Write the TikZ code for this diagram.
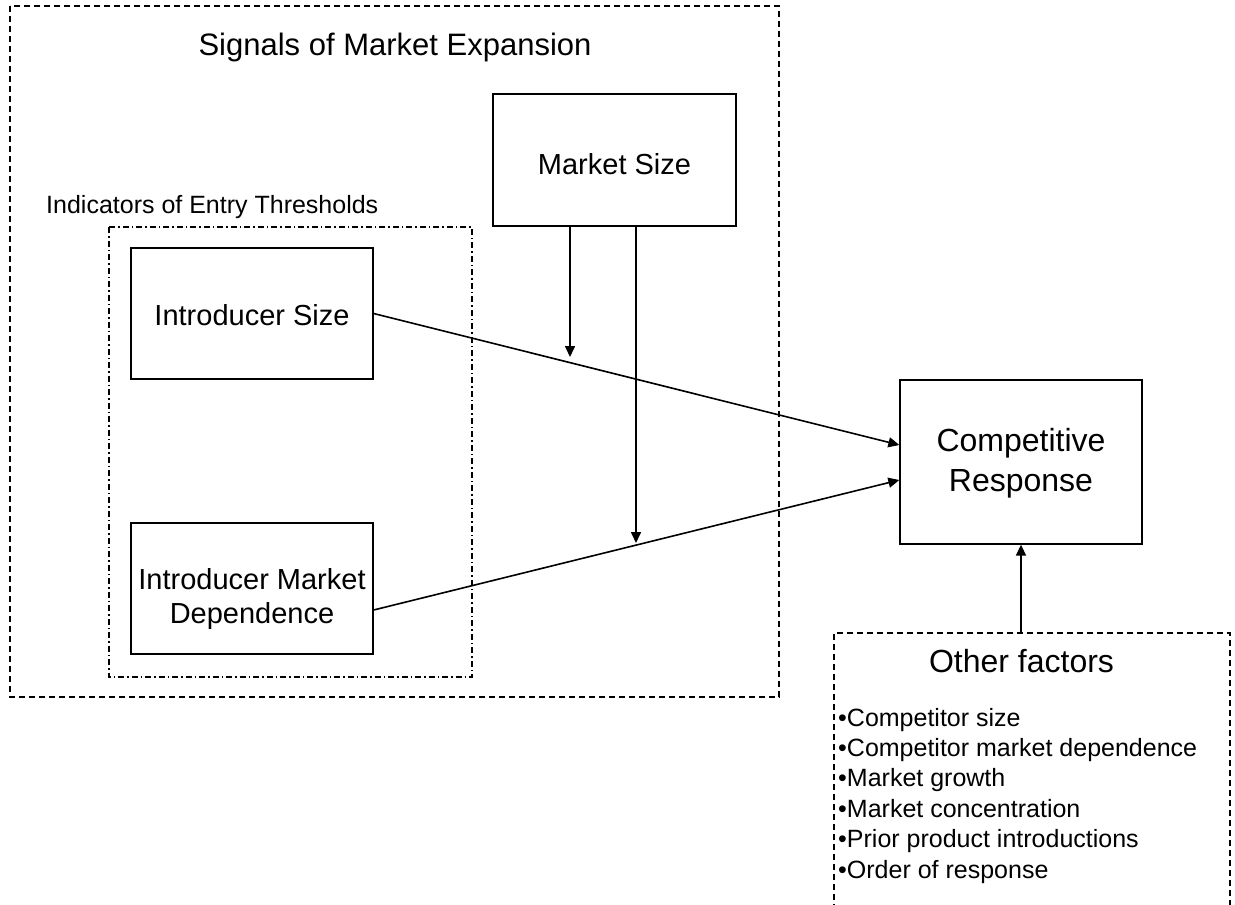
\documentclass[tikz,border=0pt]{standalone}
\usepackage{fontspec}
\setmainfont{Liberation Sans}
\usetikzlibrary{arrows.meta}
\begin{document}
\begin{tikzpicture}[x=1pt,y=-1pt,
  box/.style={draw, line width=1.3pt, inner sep=0pt,
    minimum width=242pt, minimum height=131pt},
  boxtext/.style={inner sep=0pt, align=center, font=\fontsize{29}{34}\selectfont},
  conn/.style={line width=1.6pt, -{Triangle[length=11pt,width=10pt]}},
  outerframe/.style={line width=1.1pt, dash pattern=on 6pt off 4pt},
  innerframe/.style={line width=1.1pt, dash pattern=on 6pt off 3pt on 1.5pt off 3pt},
  label/.style={inner sep=0pt},
]
\useasboundingbox (0,0) rectangle (1235,905);
\clip (0,0) rectangle (1235,905);

% group frames
\draw[outerframe] (10,6) rectangle (779,697);
\draw[innerframe] (109,227) rectangle (472,677);
\draw[outerframe] (834,920) -- (834,633) -- (1230,633) -- (1230,920);

% group titles
\node[label, anchor=base, font=\fontsize{31}{36}\selectfont] (title) at (395,55) {Signals of Market Expansion};
\node[label, anchor=base west, font=\fontsize{25}{30}\selectfont] (indic) at (46,213) {Indicators of Entry Thresholds};
\node[label, anchor=base, font=\fontsize{32}{38}\selectfont] (other) at (1021.5,672) {Other factors};

% factor list
\foreach \t [count=\i] in {Competitor size, Competitor market dependence, Market growth,
    Market concentration, Prior product introductions, Order of response}
  \node[label, anchor=base west, font=\fontsize{25}{30}\selectfont] (f\i) at (838,{726+30.4*(\i-1)}) {•\t};

% construct boxes
\node[box] (isize) at (252,313.5) {};
\node[box, minimum width=243pt, minimum height=132pt] (msize) at (614.5,160) {};
\node[box] (idep) at (252,588.5) {};
\node[box, minimum height=164pt] (resp) at (1021,462) {};

% box texts
\node[boxtext] (isizet) at ([yshift=-2pt]isize.center) {Introducer Size};
\node[boxtext] (msizet) at ([yshift=-4pt]msize.center) {Market Size};
\node[boxtext] (idept) at ([yshift=-10pt]idep.center) {Introducer Market\\Dependence};
\node[boxtext, font=\fontsize{32}{39.5}\selectfont] (respt) at ([yshift=-1pt]resp.center) {Competitive\\Response};

% moderating effects land on the main paths
\coordinate (mod1) at (570,357);
\coordinate (mod2) at (636,543);
\coordinate (oftop) at (1021,633);

% connectors
\draw[conn] (isize.east) -- ([yshift=17pt]resp.west);
\draw[conn] ([yshift=-21.5pt]idep.east) -- ([yshift=-18pt]resp.west);
\draw[conn] ([xshift=-44.5pt]msize.south) -- (mod1);
\draw[conn] ([xshift=21.5pt]msize.south) -- (mod2);
\draw[conn] (oftop) -- (resp.south);
\end{tikzpicture}
\end{document}
